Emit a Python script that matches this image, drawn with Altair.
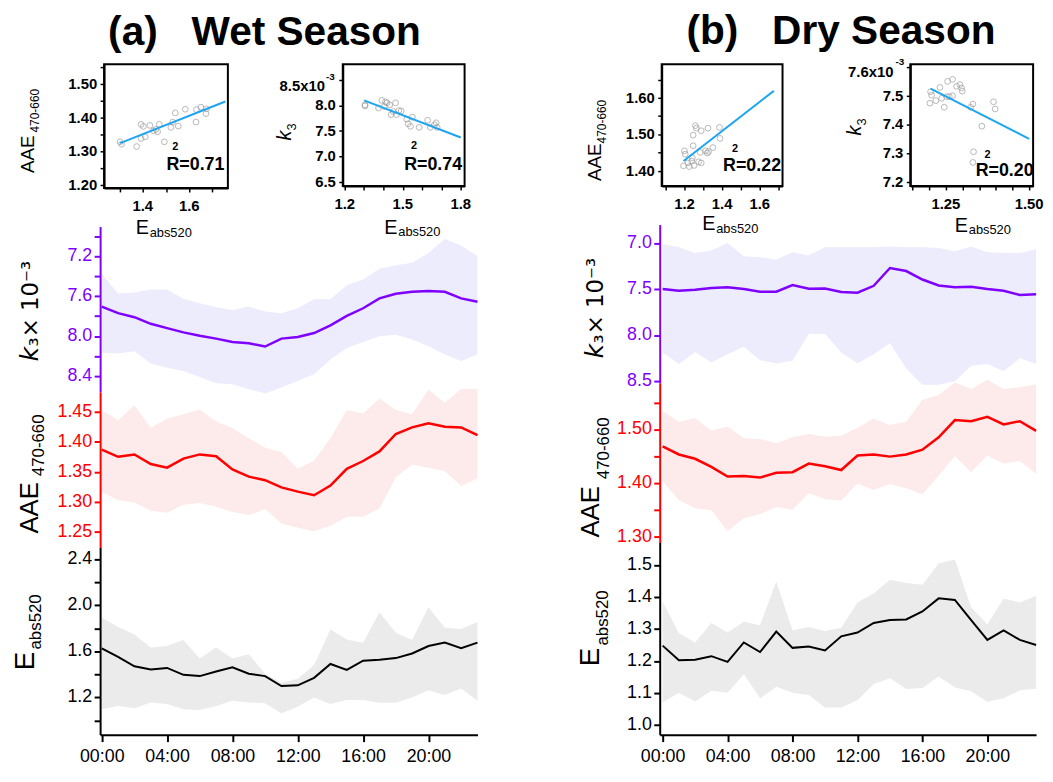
import altair as alt
import pandas as pd

FONT = "Liberation Sans"
MATH = "DejaVu Sans"
hours = list(range(24))

# ---------------- Wet season hourly data ----------------
wet_k3_mean = [7.704, 7.770, 7.810, 7.876, 7.919, 7.962, 7.995, 8.024, 8.057, 8.070, 8.103, 8.024,
               8.008, 7.968, 7.892, 7.797, 7.721, 7.622, 7.576, 7.556, 7.549, 7.556, 7.622, 7.655]
wet_k3_top = [7.375, 7.573, 7.563, 7.533, 7.533, 7.629, 7.671, 7.711, 7.737, 7.704, 7.754, 7.770,
              7.721, 7.632, 7.632, 7.490, 7.434, 7.325, 7.292, 7.266, 7.170, 7.029, 7.095, 7.200]
wet_k3_bot = [8.166, 8.173, 8.150, 8.272, 8.314, 8.347, 8.407, 8.469, 8.479, 8.529, 8.572, 8.512,
              8.446, 8.380, 8.232, 8.117, 8.057, 8.001, 7.985, 8.034, 8.100, 8.183, 8.248, 8.183]

wet_aae_mean = [1.387, 1.375, 1.379, 1.363, 1.357, 1.372, 1.379, 1.376, 1.354, 1.342, 1.336, 1.324,
                1.317, 1.311, 1.327, 1.355, 1.368, 1.384, 1.413, 1.424, 1.431, 1.425, 1.424, 1.411]
wet_aae_hi = [1.453, 1.436, 1.461, 1.423, 1.439, 1.446, 1.454, 1.434, 1.423, 1.406, 1.390, 1.383,
              1.355, 1.369, 1.406, 1.453, 1.447, 1.472, 1.453, 1.446, 1.487, 1.465, 1.488, 1.488]
wet_aae_lo = [1.316, 1.303, 1.299, 1.285, 1.282, 1.295, 1.298, 1.292, 1.283, 1.278, 1.288, 1.264,
              1.257, 1.251, 1.260, 1.275, 1.275, 1.289, 1.341, 1.362, 1.357, 1.351, 1.327, 1.339]

wet_eabs_mean = [1.626, 1.552, 1.470, 1.442, 1.456, 1.396, 1.385, 1.425, 1.461, 1.405, 1.385, 1.299,
                 1.305, 1.370, 1.490, 1.439, 1.518, 1.527, 1.541, 1.581, 1.646, 1.675, 1.626, 1.675]
wet_eabs_hi = [1.894, 1.811, 1.746, 1.632, 1.646, 1.698, 1.538, 1.632, 1.538, 1.575, 1.405, 1.328,
               1.362, 1.481, 1.789, 1.703, 1.675, 1.939, 1.760, 1.698, 1.982, 1.803, 1.794, 1.854]
wet_eabs_lo = [1.097, 1.126, 1.106, 1.157, 1.143, 1.097, 1.092, 1.126, 1.171, 1.157, 1.149, 1.063,
               1.120, 1.200, 1.143, 1.177, 1.177, 1.154, 1.154, 1.200, 1.262, 1.220, 1.277, 1.171]

# ---------------- Dry season hourly data ----------------
dry_k3_mean = [7.500, 7.518, 7.507, 7.489, 7.479, 7.500, 7.529, 7.529, 7.457, 7.496, 7.493, 7.532,
               7.539, 7.464, 7.271, 7.304, 7.396, 7.461, 7.479, 7.475, 7.500, 7.518, 7.564, 7.557]
dry_k3_top = [7.011, 7.046, 7.107, 7.082, 7.000, 7.143, 7.154, 7.179, 7.100, 7.136, 7.046, 7.046,
              7.046, 7.046, 7.039, 7.046, 7.046, 7.054, 7.089, 7.039, 7.100, 7.107, 7.107, 7.071]
dry_k3_bot = [8.189, 8.314, 8.182, 8.296, 8.207, 8.125, 8.271, 8.307, 8.279, 7.986, 7.986, 8.189,
              8.304, 8.207, 8.089, 8.361, 8.539, 8.539, 8.500, 8.332, 8.314, 8.393, 8.250, 8.314]

dry_aae_mean = [1.468, 1.453, 1.445, 1.430, 1.412, 1.413, 1.410, 1.419, 1.420, 1.436, 1.431, 1.424,
                1.451, 1.453, 1.449, 1.453, 1.462, 1.485, 1.517, 1.515, 1.523, 1.509, 1.515, 1.497]
dry_aae_hi = [1.534, 1.514, 1.521, 1.497, 1.505, 1.483, 1.482, 1.474, 1.485, 1.491, 1.486, 1.488,
              1.503, 1.520, 1.508, 1.514, 1.555, 1.564, 1.587, 1.575, 1.592, 1.575, 1.578, 1.584]
dry_aae_lo = [1.403, 1.368, 1.353, 1.349, 1.310, 1.334, 1.342, 1.355, 1.350, 1.381, 1.370, 1.367,
              1.399, 1.387, 1.398, 1.390, 1.379, 1.414, 1.450, 1.420, 1.451, 1.436, 1.441, 1.417]

dry_eabs_mean = [1.248, 1.202, 1.204, 1.215, 1.197, 1.258, 1.228, 1.292, 1.241, 1.245, 1.233, 1.277,
                 1.289, 1.319, 1.328, 1.330, 1.355, 1.396, 1.391, 1.328, 1.266, 1.296, 1.266, 1.250]
dry_eabs_hi = [1.386, 1.287, 1.258, 1.319, 1.289, 1.323, 1.312, 1.449, 1.296, 1.306, 1.294, 1.304,
               1.383, 1.411, 1.454, 1.444, 1.439, 1.505, 1.518, 1.368, 1.314, 1.396, 1.383, 1.404]
dry_eabs_lo = [1.070, 1.100, 1.073, 1.107, 1.100, 1.158, 1.083, 1.119, 1.100, 1.093, 1.054, 1.054,
               1.077, 1.128, 1.146, 1.112, 1.115, 1.151, 1.117, 1.105, 1.072, 1.083, 1.108, 1.113]

# ---------------- Inset scatter data ----------------
wet_aae_sc_x = [1.303, 1.309, 1.374, 1.393, 1.403, 1.393, 1.411, 1.431, 1.446, 1.457, 1.464, 1.471,
                1.493, 1.521, 1.529, 1.540, 1.553, 1.583, 1.629, 1.631, 1.650, 1.672, 1.674]
wet_aae_sc_y = [1.328, 1.321, 1.314, 1.380, 1.374, 1.338, 1.343, 1.377, 1.361, 1.365, 1.358, 1.380,
                1.328, 1.371, 1.387, 1.414, 1.375, 1.425, 1.387, 1.424, 1.431, 1.412, 1.426]
wet_aae_fit_x = [1.303, 1.755]
wet_aae_fit_y = [1.324, 1.448]

wet_k3_sc_x = [1.305, 1.305, 1.375, 1.392, 1.405, 1.411, 1.419, 1.433, 1.440, 1.451, 1.463, 1.468,
               1.480, 1.492, 1.521, 1.528, 1.540, 1.550, 1.585, 1.629, 1.643, 1.664, 1.673, 1.678]
wet_k3_sc_y = [8.01, 7.99, 7.95, 8.10, 7.98, 8.07, 8.05, 8.01, 7.82, 7.88, 8.05, 7.82,
               7.90, 7.89, 7.73, 7.64, 7.59, 7.77, 7.57, 7.71, 7.57, 7.62, 7.66, 7.57]
wet_k3_fit_x = [1.300, 1.800]
wet_k3_fit_y = [8.10, 7.37]

dry_aae_sc_x = [1.200, 1.204, 1.195, 1.218, 1.226, 1.239, 1.242, 1.246, 1.246, 1.251, 1.258, 1.263,
                1.275, 1.284, 1.289, 1.289, 1.312, 1.321, 1.325, 1.328, 1.351, 1.386, 1.389]
dry_aae_sc_y = [1.455, 1.446, 1.414, 1.422, 1.412, 1.427, 1.436, 1.498, 1.469, 1.415, 1.524, 1.517,
                1.425, 1.451, 1.422, 1.510, 1.455, 1.449, 1.517, 1.453, 1.464, 1.519, 1.489]
dry_aae_fit_x = [1.195, 1.675]
dry_aae_fit_y = [1.427, 1.619]

dry_k3_sc_x = [1.204, 1.207, 1.202, 1.220, 1.232, 1.237, 1.245, 1.252, 1.255, 1.260, 1.270, 1.270,
               1.282, 1.292, 1.297, 1.299, 1.324, 1.331, 1.333, 1.331, 1.358, 1.393, 1.398]
dry_k3_sc_y = [7.514, 7.502, 7.474, 7.483, 7.529, 7.491, 7.460, 7.497, 7.550, 7.497, 7.557, 7.500,
               7.533, 7.539, 7.527, 7.516, 7.460, 7.471, 7.305, 7.268, 7.394, 7.479, 7.454]
dry_k3_fit_x = [1.204, 1.50]
dry_k3_fit_y = [7.525, 7.350]

PURPLE = "#7f00ff"
LAV = "#ececfd"
RED = "#ff0000"
PINK = "#fdebeb"
BLACK = "#000000"
GRAY = "#ebebeb"


def txt(s, x, y, size, angle=0, align="left", weight="normal", style="normal",
        color="black", font=FONT, baseline="alphabetic"):
    return alt.Chart(pd.DataFrame({"t": [s]})).mark_text(
        align=align, baseline=baseline, angle=angle, fontSize=size, fontWeight=weight,
        fontStyle=style, font=font, color=color
    ).encode(x=alt.value(x), y=alt.value(y), text="t:N")


def tick_labels_y(labels, axis, scale, x, size, color, weight="normal"):
    df = pd.DataFrame({"v": [float(l) for l in labels], "t": labels})
    return alt.Chart(df).mark_text(align="right", baseline="middle", fontSize=size, font=FONT,
                                   fontWeight=weight, color=color).encode(
        x=alt.value(x), y=alt.Y("v:Q", scale=scale, axis=axis), text="t:N")


def tick_labels_x(labels, axis, scale, y, size, color, weight="normal"):
    df = pd.DataFrame({"v": [float(l) for l in labels], "t": labels})
    return alt.Chart(df).mark_text(align="center", baseline="top", fontSize=size, font=FONT,
                                   fontWeight=weight, color=color).encode(
        x=alt.X("v:Q", scale=scale, axis=axis), y=alt.value(y), text="t:N")


def panel(mean, lo, hi, ydom, reverse, ticks, labels, color, band, width, height,
          xdom, show_x, texts, lw=2.5):
    df = pd.DataFrame({"h": hours, "m": mean, "lo": lo, "hi": hi})
    if show_x:
        xax = alt.Axis(values=[0, 4, 8, 12, 16, 20], title=None, grid=False,
                       labelExpr="(datum.value < 10 ? '0' : '') + datum.value + ':00'",
                       domainColor=BLACK, domainWidth=2, tickColor=BLACK, tickWidth=2,
                       tickSize=7, labelPadding=6, labelFont=FONT, labelFontSize=18,
                       labelColor=BLACK, labelFlush=False, labelOverlap=False, zindex=1)
    else:
        xax = None
    xsc = alt.Scale(domain=xdom, nice=False, zero=False)
    yax = alt.Axis(values=ticks, labels=False, title=None, grid=False,
                   domainColor=color, domainWidth=2, tickColor=color, tickWidth=2, tickSize=6,
                   zindex=1)
    ysc = alt.Scale(domain=ydom, nice=False, zero=False, reverse=reverse)
    area = alt.Chart(df).mark_area(color=band, opacity=1).encode(
        x=alt.X("h:Q", scale=xsc, axis=xax), y=alt.Y("lo:Q", scale=ysc, axis=yax), y2="hi:Q")
    line = alt.Chart(df).mark_line(color=color, strokeWidth=lw).encode(
        x=alt.X("h:Q", scale=xsc, axis=xax), y=alt.Y("m:Q", scale=ysc, axis=yax))
    lab = tick_labels_y(labels, yax, ysc, -8, 18, color)
    return alt.layer(area, line, lab, *texts).properties(width=width, height=height)


def inset(xs, ys, fx, fy, xdom, ydom, xt, xl, yt, yl, w, h, texts):
    df = pd.DataFrame({"x": xs, "y": ys})
    fit = pd.DataFrame({"x": fx, "y": fy})
    common = dict(grid=False, title=None, labels=False, domainColor=BLACK, domainWidth=2,
                  tickColor=BLACK, tickWidth=1.5, tickSize=4)
    xax = alt.Axis(values=xt, **common)
    yax = alt.Axis(values=yt, **common)
    xsc = alt.Scale(domain=xdom, nice=False, zero=False)
    ysc = alt.Scale(domain=ydom, nice=False, zero=False)
    pts = alt.Chart(df).mark_point(shape="circle", filled=False, color="#9a9a9a", size=34,
                                   strokeWidth=1).encode(
        x=alt.X("x:Q", scale=xsc, axis=xax), y=alt.Y("y:Q", scale=ysc, axis=yax))
    ln = alt.Chart(fit).mark_line(color="#1ea5f2", strokeWidth=2).encode(
        x=alt.X("x:Q", scale=xsc, axis=xax), y=alt.Y("y:Q", scale=ysc, axis=yax))
    ylab = tick_labels_y(yl, yax, ysc, -7, 15, BLACK, weight="bold")
    xlab = tick_labels_x(xl, xax, xsc, h + 11, 15, BLACK, weight="bold")
    return alt.layer(pts, ln, ylab, xlab, *texts).properties(
        width=w, height=h, view=alt.ViewBackground(stroke="black", strokeWidth=2))


def eabs_title(xe, ye, xs, ys):
    return [txt("E", xe, ye, 20), txt("abs520", xs, ys, 13)]


def spacer():
    return alt.Chart(pd.DataFrame({"a": [0]})).mark_point(opacity=0).encode(
        x=alt.value(0), y=alt.value(0)).properties(width=1, height=1)


# ---------------- Wet column ----------------
in1 = inset(wet_aae_sc_x, wet_aae_sc_y, wet_aae_fit_x, wet_aae_fit_y,
            [1.234, 1.766], [1.191, 1.559],
            [1.3, 1.4, 1.5, 1.6, 1.7], ["1.4", "1.6"],
            [1.20, 1.25, 1.30, 1.35, 1.40, 1.45, 1.50, 1.55], ["1.20", "1.30", "1.40", "1.50"],
            125, 125,
            [txt("AAE", -71, 110, 19, angle=270), txt("470-660", -66, 69, 12, angle=270),
             *eabs_title(32, 172, 46, 175),
             txt("R=0.71", 63, 107, 18, weight="bold"),
             txt("2", 72, 87, 11, weight="bold", align="center")])

in2 = inset(wet_k3_sc_x, wet_k3_sc_y, wet_k3_fit_x, wet_k3_fit_y,
            [1.19, 1.82], [6.42, 8.81],
            [1.2, 1.3, 1.4, 1.5, 1.6, 1.7, 1.8], ["1.2", "1.5", "1.8"],
            [6.5, 7.0, 7.5, 8.0, 8.5], ["6.5", "7.0", "7.5", "8.0"],
            123, 123,
            [txt("k", -52, 77, 20, angle=270, style="italic"), txt("3", -47, 67, 13, angle=270),
             txt("8.5x10", -18, 27, 15, weight="bold", align="right"),
             txt("-3", -17, 16, 10, weight="bold"),
             *eabs_title(42, 171, 56, 174),
             txt("R=0.74", 62, 107, 18, weight="bold"),
             txt("2", 72, 86, 11, weight="bold", align="center")])

WXD = [-0.1, 23]
wk3 = panel(wet_k3_mean, wet_k3_top, wet_k3_bot, [6.905, 8.557], True,
            [7.0, 7.2, 7.4, 7.6, 7.8, 8.0, 8.2, 8.4], ["7.2", "7.6", "8.0", "8.4"],
            PURPLE, LAV, 381, 167, WXD, False,
            [txt("k", -63, 136, 25, angle=270, style="italic", font=MATH),
             txt("\u2083\u00d7 10\u207b\u00b3", -63, 121, 23, angle=270, font=MATH)])
waae = panel(wet_aae_mean, wet_aae_lo, wet_aae_hi, [1.224, 1.483], False,
             [1.25, 1.30, 1.35, 1.40, 1.45], ["1.25", "1.30", "1.35", "1.40", "1.45"],
             RED, PINK, 381, 157, WXD, False,
             [txt("AAE", -63, 143, 26, angle=270), txt("470-660", -57, 85, 17, angle=270)])
weabs = panel(wet_eabs_mean, wet_eabs_lo, wet_eabs_hi, [0.877, 2.50], False,
              [1.0, 1.2, 1.4, 1.6, 1.8, 2.0, 2.2, 2.4], ["1.2", "1.6", "2.0", "2.4"],
              BLACK, GRAY, 381, 189, WXD, True,
              [txt("E", -67, 124, 28, angle=270), txt("abs520", -60, 103, 17, angle=270)], lw=2)

# ---------------- Dry column ----------------
in3 = inset(dry_aae_sc_x, dry_aae_sc_y, dry_aae_fit_x, dry_aae_fit_y,
            [1.079, 1.721], [1.359, 1.692],
            [1.1, 1.2, 1.3, 1.4, 1.5, 1.6, 1.7], ["1.2", "1.4", "1.6"],
            [1.40, 1.45, 1.50, 1.55, 1.60, 1.65], ["1.40", "1.50", "1.60"],
            122, 123,
            [txt("AAE", -61, 118, 19, angle=270), txt("470-660", -56, 80, 12, angle=270),
             *eabs_title(41, 167, 55, 170),
             txt("R=0.22", 62, 108, 18, weight="bold"),
             txt("2", 74, 89, 11, weight="bold", align="center")])

in4 = inset(dry_k3_sc_x, dry_k3_sc_y, dry_k3_fit_x, dry_k3_fit_y,
            [1.143, 1.512], [7.186, 7.610],
            [1.15, 1.20, 1.25, 1.30, 1.35, 1.40, 1.45, 1.50], ["1.25", "1.50"],
            [7.2, 7.3, 7.4, 7.5, 7.6], ["7.2", "7.3", "7.4", "7.5"],
            124, 123,
            [txt("k", -50, 72, 20, angle=270, style="italic"), txt("3", -45, 62, 13, angle=270),
             txt("7.6x10", -17, 13, 15, weight="bold", align="right"),
             txt("-3", -15, 1, 10, weight="bold"),
             *eabs_title(45, 169, 59, 172),
             txt("R=0.20", 66, 113, 18, weight="bold"),
             txt("2", 78, 95, 11, weight="bold", align="center")])

DXD = [-0.18, 23]
dk3 = panel(dry_k3_mean, dry_k3_top, dry_k3_bot, [6.80, 8.52], True,
            [7.0, 7.5, 8.0, 8.5], ["7.0", "7.5", "8.0", "8.5"],
            PURPLE, LAV, 380, 160, DXD, False,
            [txt("k", -57, 135, 25, angle=270, style="italic", font=MATH),
             txt("\u2083\u00d7 10\u207b\u00b3", -57, 120, 23, angle=270, font=MATH)])
daae = panel(dry_aae_mean, dry_aae_lo, dry_aae_hi, [1.289, 1.586], False,
             [1.30, 1.35, 1.40, 1.45, 1.50, 1.55], ["1.30", "1.40", "1.50"],
             RED, PINK, 380, 161, DXD, False,
             [txt("AAE", -61, 156, 26, angle=270), txt("470-660", -51, 97, 17, angle=270)])
deabs = panel(dry_eabs_mean, dry_eabs_lo, dry_eabs_hi, [0.969, 1.571], False,
              [1.0, 1.1, 1.2, 1.3, 1.4, 1.5], ["1.0", "1.1", "1.2", "1.3", "1.4", "1.5"],
              BLACK, GRAY, 380, 194, DXD, True,
              [txt("E", -61, 125, 28, angle=270), txt("abs520", -52, 104, 17, angle=270)], lw=2)


# With bounds="flush", nested concat groups occupy no space, so the spacing
# values below are the offsets between the origins of the nested groups.
def column(a, b, k3, aae, eabs, lead, s_in, s_main, title, dx, off):
    pair = alt.hconcat(a, b, spacing=s_in, bounds="flush")
    top = alt.hconcat(spacer(), pair, spacing=lead - 1, bounds="flush")
    main = alt.vconcat(k3, aae, eabs, spacing=0, bounds="flush")
    return alt.vconcat(top, main, spacing=s_main, bounds="flush",
                       title=alt.TitleParams(title, font=FONT, fontSize=41, fontWeight="bold",
                                             anchor="middle", dx=dx, offset=off, frame="group",
                                             color=BLACK))


left = column(in1, in2, wk3, waae, weabs, 4, 116, 164,
              "(a)\u00a0\u00a0\u00a0Wet Season", 166, 7)
right = column(in3, in4, dk3, daae, deabs, 2, 129, 162,
               "(b)\u00a0\u00a0\u00a0Dry Season", 183, 3)

chart = alt.hconcat(left, right, spacing=565, bounds="flush").properties(
    padding={"left": 3, "top": 0, "right": 0, "bottom": 2},
    background="white"
).configure_view(stroke="transparent")

chart.save("out.html", embed_options={"renderer": "svg", "actions": False})
